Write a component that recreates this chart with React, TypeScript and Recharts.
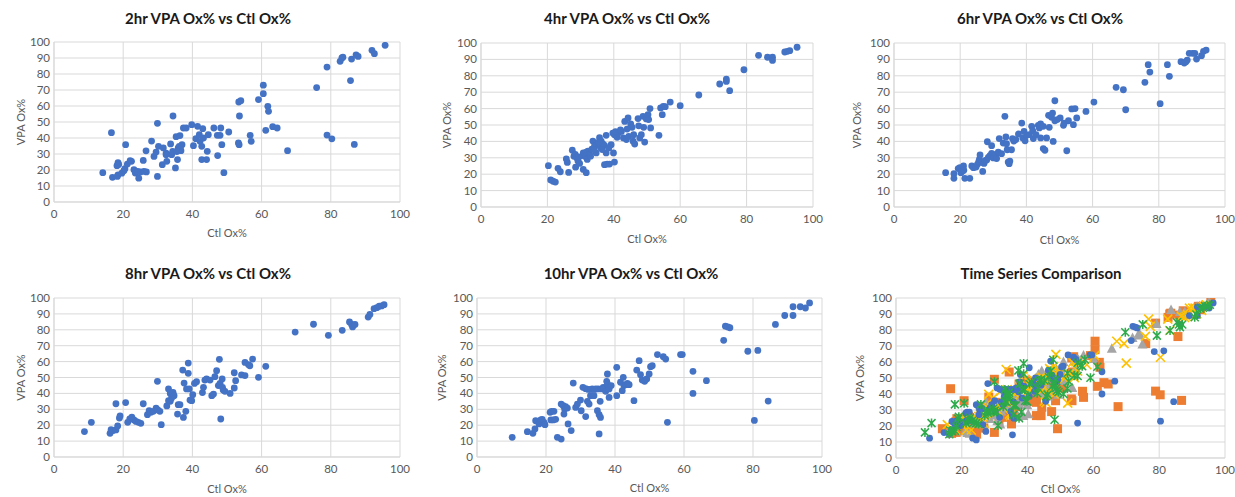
import React from 'react';
import { ScatterChart, Scatter, XAxis, YAxis, CartesianGrid } from 'recharts';

const FONT = 'Lato, "Open Sans", sans-serif';

const xTicks = [0, 20, 40, 60, 80, 100];
const yTicks = [0, 10, 20, 30, 40, 50, 60, 70, 80, 90, 100];
const xTitle = 'Ctl Ox%';
const yTitle = 'VPA Ox%';

const hr2: [number, number][] = [
  [14.1,18.3],[16.6,43.3],[16.9,15.4],[18.2,22.7],[18.5,24.6],[18.7,23.5],[18.5,17],[18.3,16],[19.6,18],[20.2,19.6],[20.5,20.8],[20.7,35.8],[21.2,23.7],[22,25.8],[22.4,25.4],[23.1,20.2],[23.5,18.1],[24.2,19.2],[24.5,14.9],[25,18.8],[26,19.2],[26.7,18.8],[25.8,26],[26.6,32],[28.2,38.1],[28.9,28.5],[29.5,31.2],[30.2,34.8],[29.9,16],[29.9,49.2],[31.3,23.3],[31.6,33.8],[32.4,30.6],[32.6,25.4],[32.4,29.5],[33.7,36.3],[34,29.6],[34.3,31.7],[34.4,53.75],[35.1,21.3],[35.3,40.8],[35.7,26.5],[35.9,33.8],[36.2,34.8],[36.4,41.5],[36.7,32.1],[37,35.8],[36.5,33],[35.5,31.5],[37.4,46.25],[38.2,46.25],[39.8,48.3],[40.3,35.2],[41,39.6],[41.5,47.3],[42,42.1],[42.2,37.9],[42.7,34.8],[43,45.8],[43.2,40],[42.7,26.5],[44.1,26.5],[44.3,31.7],[44.6,42.1],[46.2,46.25],[47.2,41.7],[48,41.7],[48.2,46.25],[48.5,35.8],[47.3,29],[49.1,18.3],[50.5,43.75],[53.3,36.9],[53.5,35.8],[53.4,62.5],[54,63.3],[53.6,53.75],[56.7,41.7],[57,37.9],[59.1,64],[60.5,73],[60.5,67.7],[61.2,44.8],[61.8,59.8],[62,56.7],[63.2,47.1],[64.5,46.25],[67.5,32.1],[75.9,71.5],[78.9,84.3],[78.9,41.8],[80.3,39.5],[82.7,87.9],[83.2,90],[83.5,90.5],[85.7,75.9],[86,89.3],[86.8,36],[87.3,92],[87.9,91],[91.9,94.8],[92.6,92.7],[95.7,97.9]
];

const hr4: [number, number][] = [
  [20.3,25.2],[21,16.5],[21.7,15.7],[22.4,15.2],[23.2,23.6],[23.9,21.5],[25.7,29.3],[26,27.2],[26.4,21.1],[27.5,34.6],[28,31],[28.4,32],[28.8,30],[28.5,24.3],[29.2,28],[29.7,26.6],[30.8,22.9],[31.7,20.9],[30.8,33],[31.2,31],[31.7,33.5],[32.2,34.1],[32.7,32.1],[33.4,35.2],[33.7,40.2],[34.2,37.2],[34.7,33],[35,37.8],[35.7,42.3],[36,36.2],[36.2,40.2],[36.7,38.5],[37.2,37.6],[37.7,33],[37.2,25.8],[38,26.2],[38.7,26.2],[39.2,38],[39.9,33],[40.2,27.4],[37.7,43.7],[39.7,45.1],[40.2,44.1],[41,42.5],[41.4,45.1],[42.3,46.1],[42.9,42.1],[43.3,52.2],[44.3,54.3],[43.8,41.1],[44.5,43.1],[45.1,50.6],[45.5,48.6],[45.8,40.1],[46.3,38.4],[46,44.1],[47.3,53.9],[47.8,42.1],[48.3,44.1],[49,48.6],[48.8,55.3],[49.3,39.6],[49.8,53.7],[50.3,56.3],[50.5,53.3],[50.9,60],[51.1,48.2],[53.6,43.7],[54.1,60.4],[54.6,56.3],[54.9,61.4],[55.5,61.2],[57,64],[60,61.8],[65.6,68.3],[71.9,75],[73.9,78],[73.9,76.6],[74.9,70.9],[79.2,83.7],[83.6,92.5],[86.3,91.3],[87.8,91.3],[87.8,89.4],[91.5,94.5],[92.3,94.9],[93,95.3],[95.2,97.4],
  [29.5,30.5],[32,29],[33,31],[34,35],[36.5,35],[38.5,36],[35.5,39.5],[40.5,46],[42,47],[44,47.5],[47.5,49.5]
];

const hr6: [number, number][] = [
  [15.6,20.9],[18.1,20.3],[18.1,17.5],[19.4,23.4],[19.9,24],[20.2,20.9],[20.7,21.9],[21.1,22.4],[21.4,17.5],[22.9,17.5],[21,25],[23.5,25],[24,24],[24.8,24.4],[25.2,26],[25.6,27.6],[25.8,29.1],[26,31.7],[26.5,27.2],[26.8,21.7],[27.2,26.6],[27.5,28.2],[28,28.7],[28.5,30.3],[28.2,39.8],[29,31.3],[29.5,37.4],[29.5,32.7],[30,29.9],[30.8,32.1],[31,29.5],[31.5,33.5],[31.8,41.7],[32.5,32.5],[33,39],[33.5,55.3],[33.8,42.7],[34,38.6],[34.2,34.9],[34.5,27.4],[34.8,26.4],[35,28],[35.5,34.9],[35.8,41.7],[36.2,40.2],[36.8,41.1],[37.6,44.5],[38.6,51.2],[38.9,42.1],[39.3,46.1],[39.6,40.4],[40.1,43.7],[40.9,44.1],[41.6,49.2],[41.9,46.5],[42.1,41.7],[42.9,44.1],[43.6,49.8],[43.9,48.2],[44.3,50.6],[44.3,42.1],[45.1,49.2],[45.1,35.6],[45.6,34.6],[46.1,42.1],[46.9,48.6],[46.7,55.9],[47.6,54.7],[48.1,40],[47.9,57.3],[48.6,64.8],[48.6,52.6],[49.3,53.3],[50.2,54.3],[51.2,49.8],[51.4,51.2],[52.2,34.3],[52.7,52.6],[53.7,59.8],[54.2,50.2],[54.7,60],[55.2,54.3],[58,58.3],[60.4,64],[67.1,73],[69.3,71.5],[70,59.3],[75.8,76],[76.8,86.8],[77.3,82.3],[80.4,63],[82.6,86.8],[83.2,79.7],[86.7,88.6],[87.7,87.8],[88.2,88.6],[88.6,89.6],[89.2,93.7],[90.2,93.7],[90.9,93.7],[91.4,90.2],[92.9,92.3],[93.5,94.9],[94.3,95.7]
];

const hr8: [number, number][] = [
  [8.8,16],[10.8,21.8],[16.2,14.9],[16.5,17.2],[17.1,16.6],[17.9,17],[18.4,19.5],[17.9,33.5],[18.9,24.5],[19.1,25.8],[20.7,34.2],[21.3,21.8],[21.9,23.9],[22.5,25],[23.1,23.3],[23.7,22.4],[24.4,21.8],[25.1,21.2],[25.8,33.5],[27,26.6],[27.5,29.1],[28,28.1],[28.7,28.7],[29.5,30.8],[30,29.6],[30.6,28.7],[31,20.3],[29.9,47.6],[32.6,32.1],[33.1,42.8],[33.6,40],[34,37.1],[34.4,40.7],[34.7,38.6],[33.1,35.4],[33.6,35],[35.7,27],[35.9,32.9],[36.4,32.9],[37.2,54.7],[37.4,24.9],[37.6,46.5],[38.1,28.7],[38.3,42.8],[38.8,52.6],[38.8,59.1],[39.1,42.8],[39.3,35.8],[39.8,35.4],[40.1,39.2],[40.6,46.3],[41.2,47.4],[42.9,40.5],[43.2,43.8],[43.6,48.4],[44.1,49.1],[45.1,48.4],[45.6,38.6],[46.1,39.6],[46.5,50.5],[47,54.3],[47.5,44.9],[47.8,61.4],[48.2,23.9],[48,46.3],[48.6,49.1],[48.7,43.8],[48.9,42.1],[49.4,41.3],[50.9,40],[52.1,43.4],[52.1,53],[52.5,48],[54.2,51.6],[55.2,59.5],[55.2,51.2],[56.2,58.1],[56.6,57.4],[57.4,61.6],[59.1,50.1],[61.2,57],[69.7,78.6],[75,83.5],[79.3,76.5],[83.3,79.7],[85.4,84.9],[86,83.4],[86.3,81.8],[87,83.4],[90.8,88],[91.3,89.7],[92.5,93.3],[93.3,93.9],[94,94.8],[94.7,95],[95.4,95.8]
];

const hr10: [number, number][] = [
  [10.2,12.4],[14.6,15.9],[16.2,14.9],[16.8,17.6],[17,22.8],[18,20.8],[18.5,23.3],[18.9,23.7],[19.4,21.8],[19.7,20.3],[21.2,28.1],[21.6,28.7],[22.3,28.7],[22.8,23.7],[21.4,23.3],[22.1,23.3],[23.3,12.4],[24.4,11.3],[24.4,33.3],[25,32.3],[25.4,30.2],[25.2,27],[25.7,31.7],[26.2,30.8],[26.4,20.8],[27.3,16.6],[27.9,46.5],[28.6,31.2],[29.1,33.3],[30,35.8],[30.2,29.1],[30.7,43.8],[31.5,25.4],[32,35],[32.5,33.3],[32.9,38.6],[33.4,42.8],[33.9,38.6],[34.4,42.8],[34.9,29.1],[35.1,42.8],[35.4,26.6],[35.8,24.9],[35.7,35],[36.1,42.8],[36.6,43.8],[36.8,42.8],[37.3,41.3],[37.6,47.6],[37.8,52.2],[37.8,45.9],[38.3,42.8],[38.3,37.5],[38.9,44.9],[31.5,43],[32.2,42.5],[33,42.5],[34,42.5],[35.4,14.5],[40.5,56.4],[40.5,38.6],[41.6,47],[42.4,50.1],[42.1,41.7],[42.6,44.9],[43.1,45.5],[43.6,46.3],[44.1,45.5],[45.5,35.4],[46.3,54.7],[47,60.6],[47.4,51.8],[47.9,48.4],[48.6,47.6],[49.2,49.1],[49.9,52.2],[50.3,56.8],[50.8,57.4],[52.3,64.4],[54,63.1],[54.7,61.6],[55.2,21.8],[59,64.4],[59.5,64.4],[62.6,53.9],[62.6,40],[66.5,48],[71.5,73.4],[72,82.3],[72.7,81.8],[73.3,81.3],[78.5,66.5],[80.4,23],[81.4,67],[84.4,35.2],[86.5,83.4],[89.2,89],[91.6,89],[91.6,94.5],[93.7,94.5],[95.2,93.7],[96.4,96.9]
];

const toPts = (a: [number, number][]) => a.map(([x, y]) => ({ x, y }));

const BLUE = '#4472C4';
const ORANGE = '#ED7D31';
const GRAY = '#A5A5A5';
const YELLOW = '#FFC000';
const GREEN = '#2DAA4A';

const Dot = (p: any) => <circle cx={p.cx} cy={p.cy} r={3.4} fill={BLUE} />;
const Square = (p: any) => <rect x={p.cx - 4.5} y={p.cy - 4.5} width={9} height={9} fill={ORANGE} />;
const Tri = (p: any) => (
  <polygon points={`${p.cx},${p.cy - 5.5} ${p.cx + 5},${p.cy + 4} ${p.cx - 5},${p.cy + 4}`} fill={GRAY} />
);
const Cross = (p: any) => (
  <path d={`M${p.cx - 4.5},${p.cy - 4.5}L${p.cx + 4.5},${p.cy + 4.5}M${p.cx - 4.5},${p.cy + 4.5}L${p.cx + 4.5},${p.cy - 4.5}`} stroke={YELLOW} strokeWidth={1.6} fill="none" />
);
const Star = (p: any) => (
  <path d={`M${p.cx - 4},${p.cy - 4}L${p.cx + 4},${p.cy + 4}M${p.cx - 4},${p.cy + 4}L${p.cx + 4},${p.cy - 4}M${p.cx},${p.cy - 4.5}L${p.cx},${p.cy + 4.5}`} stroke={GREEN} strokeWidth={1.5} fill="none" />
);

type Panel = {
  title: string;
  left: number; top: number; width: number; height: number;
  yw: number; xh: number; mt: number; mr: number;
  ylab: number; xlab: number; titleX: number; titleTop: number;
};

const tickStyle = { fontSize: 11.5, fill: '#595959', fontFamily: FONT };
const labStyle = { fontSize: 11, fill: '#595959', fontFamily: FONT };

const ChartPanel = ({ cfg, children }: { cfg: Panel; children: React.ReactNode }) => (
  <>
    <div style={{ position: 'absolute', left: cfg.titleX - 150, top: cfg.titleTop, width: 300, textAlign: 'center', fontFamily: FONT, fontWeight: 700, fontSize: 15, lineHeight: '15px', color: '#1a1a1a', whiteSpace: 'nowrap' }}>
      {cfg.title}
    </div>
    <div style={{ position: 'absolute', left: cfg.left, top: cfg.top }}>
      <ScatterChart width={cfg.width} height={cfg.height} margin={{ top: cfg.mt, right: cfg.mr, bottom: 0, left: 0 }}>
        <CartesianGrid stroke="#D9D9D9" strokeWidth={1} />
        <XAxis type="number" dataKey="x" domain={[0, 100]} ticks={xTicks} allowDataOverflow
          tickLine={false} tickSize={0} tickMargin={8} height={cfg.xh} axisLine={{ stroke: '#D9D9D9' }}
          tick={tickStyle} interval={0}
          label={{ value: xTitle, position: 'insideBottom', offset: cfg.xlab, style: labStyle }} />
        <YAxis type="number" dataKey="y" domain={[0, 100]} ticks={yTicks} allowDataOverflow
          tickLine={false} tickSize={0} tickMargin={4} width={cfg.yw} axisLine={{ stroke: '#D9D9D9' }}
          tick={tickStyle} interval={0}
          label={{ value: yTitle, angle: -90, position: 'insideLeft', offset: cfg.ylab, style: { ...labStyle, textAnchor: 'middle' } }} />
        {children}
      </ScatterChart>
    </div>
  </>
);

const panels: Panel[] = [
  { title: '2hr VPA Ox% vs Ctl Ox%', left: 0, top: 0, width: 415, height: 250, yw: 54, xh: 48, mt: 42, mr: 15, ylab: 21, xlab: 13, titleX: 208, titleTop: 11 },
  { title: '4hr VPA Ox% vs Ctl Ox%', left: 410, top: 0, width: 415, height: 250, yw: 71, xh: 43, mt: 43, mr: 12, ylab: 37, xlab: 7, titleX: 627, titleTop: 11 },
  { title: '6hr VPA Ox% vs Ctl Ox%', left: 820, top: 0, width: 415, height: 250, yw: 74, xh: 43, mt: 43, mr: 10, ylab: 37, xlab: 6, titleX: 1040, titleTop: 11 },
  { title: '8hr VPA Ox% vs Ctl Ox%', left: 0, top: 250, width: 415, height: 247, yw: 54, xh: 40, mt: 48, mr: 15, ylab: 21, xlab: 4, titleX: 208, titleTop: 266 },
  { title: '10hr VPA Ox% vs Ctl Ox%', left: 410, top: 250, width: 430, height: 247, yw: 67, xh: 40, mt: 48, mr: 18, ylab: 32, xlab: 5, titleX: 631, titleTop: 266 },
  { title: 'Time Series Comparison', left: 820, top: 250, width: 415, height: 247, yw: 76, xh: 39, mt: 48, mr: 10, ylab: 40, xlab: 4, titleX: 1041, titleTop: 266 },
];

export default function App() {
  return (
    <div style={{ position: 'absolute', left: 0, top: 0, width: 1235, height: 497, background: '#fff', overflow: 'hidden' }}>
      <ChartPanel cfg={panels[0]}>
        <Scatter data={toPts(hr2)} shape={Dot} isAnimationActive={false} />
      </ChartPanel>
      <ChartPanel cfg={panels[1]}>
        <Scatter data={toPts(hr4)} shape={Dot} isAnimationActive={false} />
      </ChartPanel>
      <ChartPanel cfg={panels[2]}>
        <Scatter data={toPts(hr6)} shape={Dot} isAnimationActive={false} />
      </ChartPanel>
      <ChartPanel cfg={panels[3]}>
        <Scatter data={toPts(hr8)} shape={Dot} isAnimationActive={false} />
      </ChartPanel>
      <ChartPanel cfg={panels[4]}>
        <Scatter data={toPts(hr10)} shape={Dot} isAnimationActive={false} />
      </ChartPanel>
      <ChartPanel cfg={panels[5]}>
        <Scatter name="2hr" data={toPts(hr2)} shape={Square} isAnimationActive={false} />
        <Scatter name="4hr" data={toPts(hr4)} shape={Tri} isAnimationActive={false} />
        <Scatter name="6hr" data={toPts(hr6)} shape={Cross} isAnimationActive={false} />
        <Scatter name="10hr" data={toPts(hr10)} shape={Dot} isAnimationActive={false} />
        <Scatter name="8hr" data={toPts(hr8)} shape={Star} isAnimationActive={false} />
      </ChartPanel>
    </div>
  );
}
